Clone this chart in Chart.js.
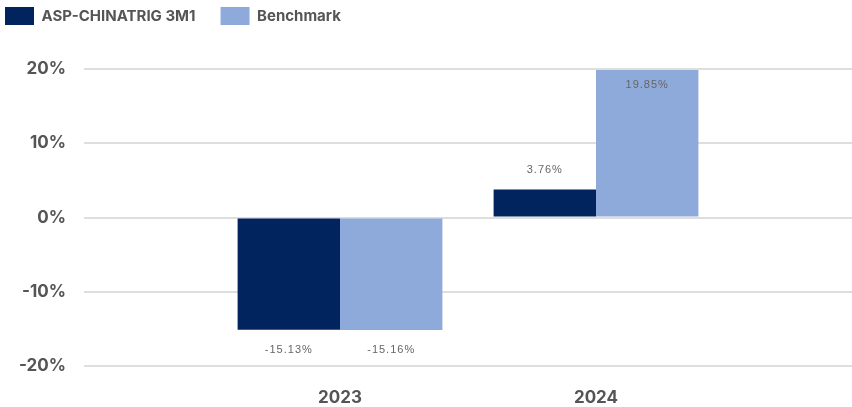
<!DOCTYPE html>
<html>
<head>
<meta charset="utf-8">
<script src="https://cdn.jsdelivr.net/npm/chart.js@4"></script>
<style>
  html, body { margin: 0; padding: 0; background: #fff; }
  #wrap { width: 852px; height: 407px; }
</style>
</head>
<body>
<div id="wrap"><canvas id="chartReturns"></canvas></div>
<script>
const categories = ["2023", "2024"];
const fundLabel = "ASP-CHINATRIG 3M1";
const benchLabel = "Benchmark";
const fundValues = [-15.13, 3.76];
const benchValues = [-15.16, 19.85];
const yTicks = [-20, -10, 0, 10, 20];

const chartReturns = document.getElementById("chartReturns");

// empty slots on both sides so the two years sit where they do in the original
const pad = (arr) => [null, ...arr, null];
const axisFont = { family: "Inter, 'Liberation Sans', Arial, sans-serif", size: 17, weight: "bold" };

// value labels outside the bars (clamped inside at the top)
const barValueLabels = {
    id: "barValueLabels",
    afterDatasetsDraw(chart) {
        const { ctx, chartArea } = chart;
        ctx.save();
        ctx.font = "11px 'Liberation Sans', Arial, sans-serif";
        ctx.fillStyle = "#666";
        ctx.textAlign = "center";
        ctx.textBaseline = "middle";
        ctx.letterSpacing = "1px";
        chart.data.datasets.forEach((ds, i) => {
            chart.getDatasetMeta(i).data.forEach((bar, j) => {
                const v = ds.data[j];
                if (v == null) return;
                let y = v >= 0 ? bar.y - 20 : bar.y + 20;
                if (y < chartArea.top + 16) y = chartArea.top + 16;
                ctx.fillText(v.toFixed(2) + "%", bar.x, y);
            });
        });
        ctx.restore();
    }
};

// extra room under the legend
const legendGap = {
    id: "legendGap",
    beforeInit(chart) {
        const fit = chart.legend.fit;
        chart.legend.fit = function () {
            fit.bind(chart.legend)();
            this.height += 34;
        };
    }
};

new Chart(chartReturns, {
    type: "bar",
    data: {
        labels: ["", ...categories, ""],
        datasets: [
            {
                label: fundLabel,
                data: pad(fundValues),
                backgroundColor: "#02245e",
                borderWidth: 0,
            },
            {
                label: benchLabel,
                data: pad(benchValues),
                backgroundColor: "#8eaadb",
                borderWidth: 0,
            }
        ]
    },
    options: {
        responsive: true,
        maintainAspectRatio: false,
        animation: false,
        barPercentage: 1,
        categoryPercentage: 0.8,
        layout: { padding: { left: -20, top: -18, right: 0, bottom: 0 } },
        plugins: {
            tooltip: { enabled: false },
            legend: {
                position: "top",
                align: "start",
                labels: {
                    boxWidth: 29,
                    boxHeight: 18,
                    padding: 25,
                    color: "#555",
                    font: { family: "Inter, 'Liberation Sans', Arial, sans-serif", size: 15, weight: "bold" }
                }
            }
        },
        scales: {
            x: {
                offset: false,
                grid: { display: false },
                border: { display: false },
                ticks: { padding: 14, color: "#555", font: axisFont, autoSkip: false, maxRotation: 0 },
                afterFit: (s) => {
                    s.height = 41;
                    s.paddingLeft = 0;
                    s.paddingRight = 0;
                }
            },
            y: {
                min: -20,
                max: 20,
                afterBuildTicks: (s) => { s.ticks = yTicks.map(v => ({ value: v })); },
                border: { display: false },
                grid: { color: "#dedede", lineWidth: 2, drawTicks: false },
                ticks: { padding: 18, color: "#555", font: axisFont, callback: v => v + "%" },
                afterFit: (s) => { s.width = 104; }
            }
        }
    },
    plugins: [barValueLabels, legendGap]
});
</script>
</body>
</html>
